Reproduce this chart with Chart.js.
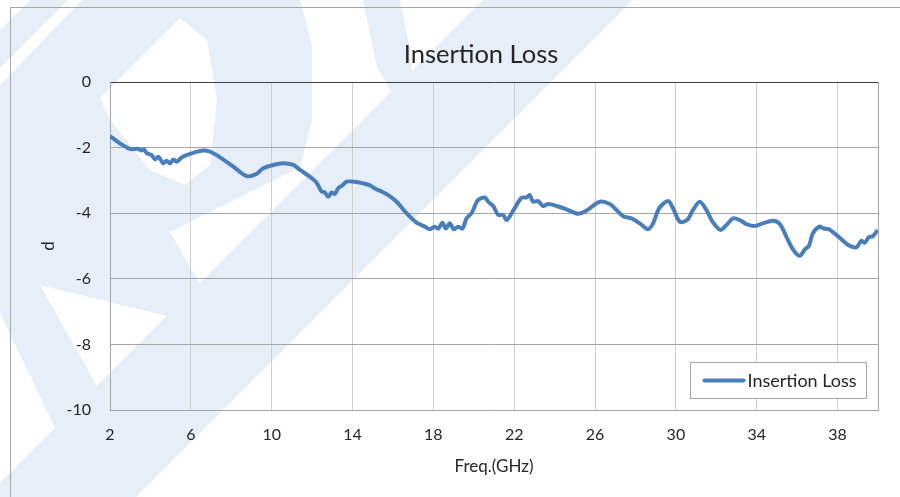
<!DOCTYPE html>
<html>
<head>
<meta charset="utf-8">
<script src="https://cdn.jsdelivr.net/npm/chart.js@4.4.1/dist/chart.umd.min.js"></script>
<style>
  html, body { margin: 0; padding: 0; background: #fff; }
</style>
</head>
<body>
<canvas id="chart" width="900" height="497"></canvas>
<script>
// frequency (GHz) and insertion loss (dB)
const freqs = [
  2.00, 2.49, 2.99, 3.40, 3.57, 3.68, 3.82, 4.06, 4.23, 4.39,
  4.64, 4.80, 4.97, 5.13, 5.30, 5.55, 5.79, 6.12, 6.61, 6.95,
  7.28, 8.10, 8.76, 9.26, 9.58, 10.08, 10.57, 11.07, 11.40, 11.89,
  12.22, 12.47, 12.63, 12.80, 12.96, 13.13, 13.29, 13.46, 13.71, 14.12,
  14.53, 14.86, 15.11, 15.44, 15.76, 16.18, 16.67, 17.17, 17.58, 17.83,
  18.07, 18.24, 18.45, 18.62, 18.81, 19.01, 19.23, 19.44, 19.64, 19.89,
  20.21, 20.55, 20.71, 20.96, 21.20, 21.45, 21.62, 21.95, 22.36, 22.61,
  22.77, 22.93, 23.18, 23.43, 23.68, 24.09, 24.59, 25.16, 25.58, 26.23,
  26.73, 27.06, 27.39, 27.80, 28.21, 28.62, 28.87, 29.17, 29.61, 29.86,
  30.19, 30.55, 30.85, 31.18, 31.51, 31.81, 32.20, 32.50, 32.83, 33.16,
  33.49, 33.90, 34.31, 34.80, 35.14, 35.47, 35.79, 36.13, 36.38, 36.58,
  36.78, 37.11, 37.28, 37.57, 37.94, 38.27, 38.56, 38.93, 39.18, 39.34,
  39.55, 39.75, 39.98
];
const loss = [
  -1.65, -1.87, -2.04, -2.04, -2.09, -2.05, -2.17, -2.23, -2.36, -2.28,
  -2.48, -2.40, -2.48, -2.36, -2.43, -2.30, -2.23, -2.16, -2.09, -2.12,
  -2.23, -2.58, -2.87, -2.80, -2.63, -2.53, -2.48, -2.53, -2.68, -2.89,
  -3.07, -3.34, -3.37, -3.50, -3.37, -3.41, -3.24, -3.17, -3.04, -3.04,
  -3.09, -3.15, -3.25, -3.34, -3.45, -3.65, -4.00, -4.29, -4.41, -4.49,
  -4.41, -4.47, -4.29, -4.47, -4.31, -4.49, -4.41, -4.47, -4.16, -4.00,
  -3.60, -3.52, -3.65, -3.78, -4.05, -4.05, -4.21, -3.92, -3.53, -3.52,
  -3.45, -3.65, -3.63, -3.78, -3.72, -3.78, -3.88, -4.02, -3.92, -3.65,
  -3.72, -3.90, -4.09, -4.16, -4.31, -4.49, -4.31, -3.85, -3.63, -3.85,
  -4.26, -4.21, -3.90, -3.65, -3.90, -4.26, -4.51, -4.36, -4.16, -4.21,
  -4.33, -4.39, -4.31, -4.23, -4.33, -4.72, -5.10, -5.30, -5.10, -5.00,
  -4.61, -4.41, -4.46, -4.49, -4.66, -4.84, -4.98, -5.04, -4.84, -4.90,
  -4.73, -4.70, -4.51
];
const xTicks = [2, 6, 10, 14, 18, 22, 26, 30, 34, 38];
const seriesName = 'Insertion Loss';
const fontFamily = 'Lato, "Open Sans", sans-serif';
const textColor = '#262626';
const lineColor = '#4a7ebb';

// faint logo watermark behind the chart
const watermark = [
  [[30, 0], [68, 0], [0, 68], [0, 30]],
  [[483, 0], [633, 0], [136, 497], [-14, 497]],
  [[363, 0], [400, 0], [410, 50], [418, 137], [377, 67]]
];
const logoOuter = [[82, 0], [300, 0], [312, 45], [312, 120], [300, 167], [170, 232], [227, 330], [130, 497], [88, 497], [0, 313], [0, 85]];
const logoHoles = [
  [[180, 18], [207, 40], [217, 100], [210, 165], [185, 185], [150, 170], [110, 120], [100, 98]],
  [[40, 285], [167, 316], [97, 386]]
];

function tracePoly(ctx, pts) {
  ctx.moveTo(pts[0][0], pts[0][1]);
  pts.slice(1).forEach(p => ctx.lineTo(p[0], p[1]));
  ctx.closePath();
}

const framePlugin = {
  id: 'frame',
  afterLayout(chart) {
    // let the y tick labels and axis title use the space left of the axis
    chart.scales.y.left = 0;
  },
  beforeDraw(chart) {
    const { ctx } = chart;
    ctx.save();
    ctx.fillStyle = '#fff';
    ctx.fillRect(0, 0, chart.width, chart.height);
    ctx.fillStyle = '#e6eef7';
    watermark.forEach(poly => {
      ctx.beginPath();
      tracePoly(ctx, poly);
      ctx.fill();
    });
    ctx.beginPath();
    tracePoly(ctx, logoOuter);
    logoHoles.forEach(h => tracePoly(ctx, h));
    ctx.fill('evenodd');
    // outer chart border
    ctx.strokeStyle = '#a6a6a6';
    ctx.lineWidth = 1;
    ctx.strokeRect(10.5, 7.5, chart.width, chart.height);
    ctx.restore();
  },
  beforeDatasetsDraw(chart) {
    // right edge of the plot area
    const { ctx, chartArea } = chart;
    ctx.save();
    ctx.strokeStyle = '#a6a6a6';
    ctx.lineWidth = 1;
    ctx.beginPath();
    ctx.moveTo(Math.round(chartArea.right) + 0.5, chartArea.top);
    ctx.lineTo(Math.round(chartArea.right) + 0.5, chartArea.bottom);
    ctx.stroke();
    ctx.restore();
  }
};

// legend box inside the plot, bottom right
const boxLegend = {
  id: 'boxLegend',
  afterDraw(chart) {
    const { ctx, chartArea } = chart;
    const ds = chart.data.datasets[0];
    const w = 176, h = 36;
    const x = Math.round(chartArea.right - 12 - w) + 0.5;
    const y = Math.round(chartArea.bottom - 12 - h) + 0.5;
    ctx.save();
    ctx.fillStyle = '#fff';
    ctx.fillRect(x, y, w, h);
    ctx.strokeStyle = '#a6a6a6';
    ctx.lineWidth = 1;
    ctx.strokeRect(x, y, w, h);
    ctx.strokeStyle = ds.borderColor;
    ctx.lineWidth = 4;
    ctx.lineCap = 'round';
    ctx.beginPath();
    ctx.moveTo(x + 14, y + h / 2);
    ctx.lineTo(x + 53, y + h / 2);
    ctx.stroke();
    ctx.fillStyle = textColor;
    ctx.font = '18px ' + fontFamily;
    ctx.textBaseline = 'middle';
    ctx.fillText(ds.label, x + 57, y + h / 2 + 1);
    ctx.restore();
  }
};

new Chart(document.getElementById('chart'), {
  type: 'line',
  data: {
    datasets: [{
      label: seriesName,
      data: freqs.map((f, i) => ({ x: f, y: loss[i] })),
      borderColor: lineColor,
      backgroundColor: lineColor,
      borderWidth: 4,
      pointRadius: 0,
      tension: 0.3,
      fill: false
    }]
  },
  options: {
    responsive: false,
    animation: false,
    layout: { padding: { left: 84, right: 22, top: 0, bottom: 0 } },
    plugins: {
      legend: { display: false },
      tooltip: { enabled: false },
      title: {
        display: true,
        text: 'Insertion Loss',
        color: textColor,
        font: { family: fontFamily, size: 25.5, weight: 'normal' },
        padding: { top: 39.7, bottom: 11.7 }
      }
    },
    scales: {
      x: {
        type: 'linear',
        min: 2,
        max: 40,
        afterBuildTicks(scale) {
          scale.ticks = xTicks.map(v => ({ value: v }));
        },
        afterFit(scale) { scale.height = 87; },
        grid: { color: '#d0d0d0', drawTicks: false },
        border: { color: '#a6a6a6' },
        ticks: {
          padding: 15,
          color: textColor,
          font: { family: fontFamily, size: 16 },
          maxRotation: 0
        },
        title: {
          display: true,
          text: 'Freq.(GHz)',
          color: textColor,
          font: { family: fontFamily, size: 17 },
          padding: { top: 0, bottom: 19.8 }
        }
      },
      y: {
        min: -10,
        max: 0,
        afterFit(scale) { scale.width = 26; },
        grid: {
          color: ctx => (ctx.tick && ctx.tick.value === 0 ? '#404040' : '#a6a6a6'),
          drawTicks: false
        },
        border: { color: '#a6a6a6' },
        ticks: {
          stepSize: 2,
          padding: 19,
          color: textColor,
          font: { family: fontFamily, size: 16 }
        },
        title: {
          display: true,
          text: 'd',
          color: textColor,
          font: { family: fontFamily, size: 17 },
          padding: { top: 38, bottom: 0 }
        }
      }
    }
  },
  plugins: [framePlugin, boxLegend]
});
</script>
</body>
</html>
